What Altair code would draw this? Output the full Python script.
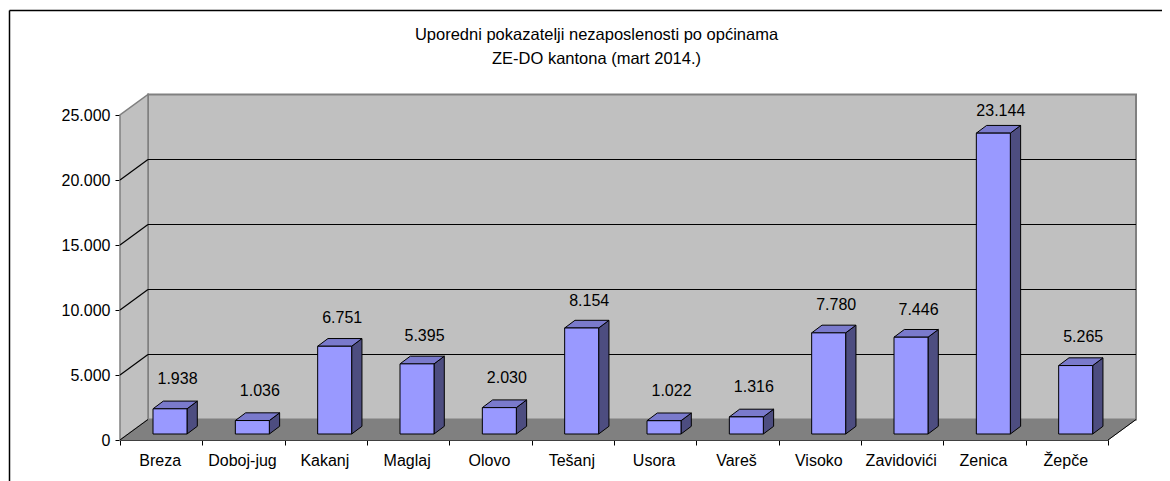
import altair as alt
import pandas as pd

categories = ["Breza", "Doboj-jug", "Kakanj", "Maglaj", "Olovo", "Tešanj", "Usora", "Vareš", "Visoko", "Zavidovići", "Zenica", "Žepče"]
values = [1938, 1036, 6751, 5395, 2030, 8154, 1022, 1316, 7780, 7446, 23144, 5265]
y_ticks = [0, 5000, 10000, 15000, 20000, 25000]
title_lines = ["Uporedni pokazatelji nezaposlenosti po općinama", "ZE-DO kantona (mart 2014.)"]

FONT = "Liberation Sans"
W, H = 988, 325
PAD_L, PAD_T = 112, 107
PX_X = 12 / W        # category units per pixel
PX_Y = 25000 / H     # value units per pixel
WALL_X = 28 * PX_X
WALL_Y = 20.5 * PX_Y
BAR_L = 33 * PX_X
BAR_W = 34 * PX_X
BAR_DX = 10.3 * PX_X
BAR_DY = 7.7 * PX_Y
BASE = 6 * PX_Y
LABEL_DX = 7.5 * PX_X

names_js = "[" + ",".join(f'"{c}"' for c in categories) + ',""]'
xs = alt.Scale(domain=[0, 12], nice=False, zero=False, clamp=False)
ys = alt.Scale(domain=[0, 25000], nice=False, zero=False, clamp=False)
x_axis = alt.Axis(
    values=list(range(13)), title=None, grid=False, labelOffset=W / 24 - 1.5, labelFont=FONT, labelFontSize=16,
    labelColor="#000000", tickColor="#000000", domainColor="#000000", tickSize=5, labelPadding=7,
    labelExpr=f"{names_js}[datum.value]", labelFlush=False, labelOverlap=False, labelAngle=0, labelAlign="center")
y_axis = alt.Axis(
    values=y_ticks, title=None, grid=False, labelFont=FONT, labelFontSize=16, labelColor="#000000",
    tickColor="#000000", domainColor="#000000", tickSize=5, labelPadding=5,
    labelExpr="replace(format(datum.value, ','), ',', '.')")
X = lambda f, **k: alt.X(f, type="quantitative", scale=xs, axis=x_axis, **k)
Y = lambda f, **k: alt.Y(f, type="quantitative", scale=ys, axis=y_axis, **k)

# --- walls and floor
back = pd.DataFrame({"x": [WALL_X], "x2": [12 + WALL_X], "y": [WALL_Y], "y2": [25000 + WALL_Y]})
back_wall = alt.Chart(back).mark_rect(fill="#C0C0C0", stroke="#808080", strokeWidth=2).encode(
    X("x"), x2="x2", y=Y("y"), y2="y2")

left = pd.DataFrame({"x": [0, WALL_X], "y": [0, WALL_Y], "y2": [25000, 25000 + WALL_Y]})
left_wall = alt.Chart(left).mark_area(fill="#C0C0C0", stroke="#808080", strokeWidth=1.5, opacity=1).encode(
    X("x"), y=Y("y"), y2="y2")

floor = pd.DataFrame({"y": [0, WALL_Y], "x": [0, WALL_X], "x2": [12, 12 + WALL_X]})
floor_area = alt.Chart(floor).mark_area(orient="horizontal", fill="#808080", stroke="#808080", strokeWidth=1, opacity=1).encode(
    y=Y("y"), x=X("x"), x2="x2")

# --- grid: along the back wall and diagonals on the side wall
grid_rows = []
for t in y_ticks[1:-1]:
    grid_rows += [dict(g=t, x=WALL_X, y=t + WALL_Y), dict(g=t, x=12 + WALL_X, y=t + WALL_Y)]
    grid_rows += [dict(g=-t, x=0, y=t), dict(g=-t, x=WALL_X, y=t + WALL_Y)]
grid = alt.Chart(pd.DataFrame(grid_rows)).mark_line(color="#000000", strokeWidth=1.2).encode(
    X("x"), y=Y("y"), detail="g:N")

edge_rows = [dict(g=1, x=0, y=0), dict(g=1, x=WALL_X, y=WALL_Y),
             dict(g=2, x=12, y=0), dict(g=2, x=12 + WALL_X, y=WALL_Y)]
edges = alt.Chart(pd.DataFrame(edge_rows)).mark_line(color="#000000", strokeWidth=1).encode(
    X("x"), y=Y("y"), detail="g:N")

# --- bars
front_rows, side_rows, top_rows, label_rows = [], [], [], []
for i, (c, v) in enumerate(zip(categories, values)):
    l = i + BAR_L
    r = l + BAR_W
    t = BASE + v
    front_rows.append(dict(x=l, x2=r, y=BASE, y2=t))
    side_rows += [dict(c=c, x=r, y=BASE, y2=t), dict(c=c, x=r + BAR_DX, y=BASE + BAR_DY, y2=t + BAR_DY)]
    top_rows += [dict(c=c, y=t, x=l, x2=r), dict(c=c, y=t + BAR_DY, x=l + BAR_DX, x2=r + BAR_DX)]
    label_rows.append(dict(x=(l + r) / 2 + LABEL_DX, y=t + (30 - v * 0.00033) * PX_Y,
                           t=f"{v:,}".replace(",", ".")))

front = alt.Chart(pd.DataFrame(front_rows)).mark_rect(fill="#9999FF", stroke="#000000", strokeWidth=1).encode(
    X("x"), x2="x2", y=Y("y"), y2="y2")
side = alt.Chart(pd.DataFrame(side_rows)).mark_area(fill="#4D4D80", stroke="#000000", strokeWidth=1, opacity=1).encode(
    X("x"), y=Y("y"), y2="y2", detail="c:N")
top = alt.Chart(pd.DataFrame(top_rows)).mark_area(orient="horizontal", fill="#7A7ACC", stroke="#000000", strokeWidth=1, opacity=1).encode(
    y=Y("y"), x=X("x"), x2="x2", detail="c:N")
labels = alt.Chart(pd.DataFrame(label_rows)).mark_text(font=FONT, fontSize=16, color="#000000").encode(
    X("x"), y=Y("y"), text="t:N")

# --- outer frame, in pixels relative to the plot area (open at the right and bottom)
frame_left = alt.Chart(pd.DataFrame({"a": [0]})).mark_rule(color="#000000", strokeWidth=1.5).encode(
    x=alt.value(9.5 - 8 - PAD_L), y=alt.value(10.5 - 8 - PAD_T), y2=alt.value(481 - 8 - PAD_T))
frame_top = alt.Chart(pd.DataFrame({"a": [0]})).mark_rule(color="#000000", strokeWidth=1.5).encode(
    y=alt.value(10.5 - 8 - PAD_T), x=alt.value(9.5 - 8 - PAD_L), x2=alt.value(1162 - 8 - PAD_L))

chart = alt.layer(
    frame_left, frame_top,
    back_wall, left_wall, floor_area, grid, edges, side, top, front, labels
).properties(
    width=W, height=H,
    padding={"left": PAD_L, "top": PAD_T, "right": 1154 - PAD_L - W, "bottom": 473 - PAD_T - H},
    autosize=alt.AutoSizeParams(type="none"),
    title=alt.TitleParams(text=title_lines, font=FONT, fontSize=16.5, fontWeight="normal", color="#000000",
                          anchor="middle", dx=-17.5, offset=-58, lineHeight=24),
).configure_view(stroke=None).configure(background="white")

chart.save("out.html", embed_options={"renderer": "svg", "actions": False})
